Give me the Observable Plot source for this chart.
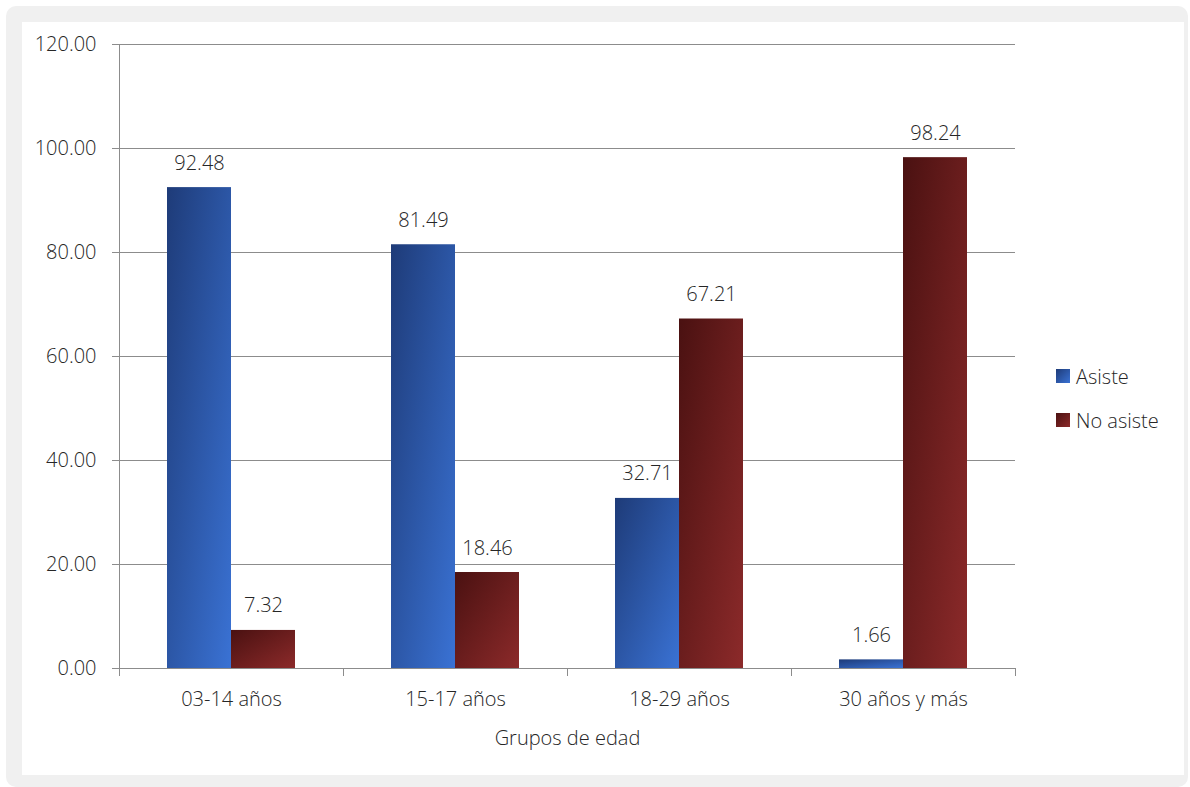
<!DOCTYPE html>
<html>
<head>
<meta charset="utf-8">
<script src="https://cdn.jsdelivr.net/npm/d3@7"></script>
<script src="https://cdn.jsdelivr.net/npm/@observablehq/plot@0.6"></script>
<style>
  html, body { margin: 0; padding: 0; background: #fff; }
  #wrap { position: relative; width: 1190px; height: 787px; background: #fff; overflow: hidden;
          font-family: 'Open Sans', sans-serif; color: #262626; }
  #outer { position: absolute; left: 6px; top: 6px; right: 2px; bottom: 0px; background: #f0f0f0; border-radius: 10px; }
  #inner { position: absolute; left: 22px; top: 22px; width: 1162px; height: 753px; background: #fff; }
  #chart { position: absolute; left: 0; top: 0; }
  #legend { position: absolute; left: 1056px; top: 362px; font-size: 20px; font-weight: 300; }
  .item { display: flex; align-items: center; height: 28px; margin-bottom: 16px; }
  .sw { width: 14px; height: 14px; margin-right: 6px; }
</style>
</head>
<body>
<div id="wrap">
  <div id="outer"></div>
  <div id="inner"></div>
  <div id="chart"></div>
  <div id="legend"></div>
</div>
<script>
const categories = ["03-14 años", "15-17 años", "18-29 años", "30 años y más"];
const series = ["Asiste", "No asiste"];
const asiste = [92.48, 81.49, 32.71, 1.66];
const noAsiste = [7.32, 18.46, 67.21, 98.24];
const yTicks = [0, 20, 40, 60, 80, 100, 120];
const xTitle = "Grupos de edad";

const gradients = {
  "Asiste": ["#1e3b78", "#3a72d4"],
  "No asiste": ["#4a1111", "#8c2a2a"]
};
const gradIds = {"Asiste": "gradAsiste", "No asiste": "gradNoAsiste"};

const data = categories.flatMap((c, i) => [
  {grupo: c, serie: series[0], valor: asiste[i]},
  {grupo: c, serie: series[1], valor: noAsiste[i]}
]);

const grid = "#8c8c8c";
const ink = "#262626";

const chart = Plot.plot({
  width: 1190,
  height: 787,
  marginLeft: 118,
  marginRight: 175,
  marginTop: 44,
  marginBottom: 119,
  style: {background: "transparent", fontFamily: "'Open Sans', sans-serif", fontSize: "20px", fontWeight: 300, color: ink},
  fx: {domain: categories, padding: 0, label: null},
  x: {domain: series, paddingInner: 0, paddingOuter: 0.735, axis: null},
  y: {domain: [0, 120]},
  color: {domain: series, range: series.map(s => `url(#${gradIds[s]})`)},
  marks: [
    Plot.gridY(yTicks, {stroke: grid, strokeOpacity: 1}),
    Plot.axisY(yTicks, {tickSize: 7, tickPadding: 16, tickFormat: d => d.toFixed(2), stroke: grid, fill: ink, label: null}),
    Plot.barY(data, {fx: "grupo", x: "serie", y: "valor", fill: "serie"}),
    Plot.text(data, {fx: "grupo", x: "serie", y: "valor", text: d => d.valor.toFixed(2), lineAnchor: "bottom", dy: -18, fill: ink}),
    Plot.ruleY([0], {stroke: grid}),
    Plot.frame({anchor: "left", facetAnchor: "left", stroke: grid, strokeOpacity: 1}),
    Plot.frame({anchor: "left", insetTop: 624, insetBottom: -7, stroke: grid, strokeOpacity: 1}),
    Plot.frame({anchor: "right", insetTop: 624, insetBottom: -7, stroke: grid, strokeOpacity: 1}),
    Plot.axisFx({anchor: "bottom", tickSize: 0, tickPadding: 23, fill: ink, label: xTitle, labelAnchor: "center", labelOffset: 76, labelArrow: "none"})
  ]
});

const svg = d3.select(chart);
const defs = svg.insert("defs", ":first-child");
for (const s of series) {
  const g = defs.append("linearGradient").attr("id", gradIds[s])
    .attr("x1", 0).attr("y1", 0).attr("x2", 1).attr("y2", 1);
  g.append("stop").attr("offset", "0%").attr("stop-color", gradients[s][0]);
  g.append("stop").attr("offset", "100%").attr("stop-color", gradients[s][1]);
}
document.getElementById("chart").appendChild(chart);

const legend = d3.select("#legend");
for (const s of series) {
  const it = legend.append("div").attr("class", "item");
  it.append("div").attr("class", "sw").style("background", `linear-gradient(135deg, ${gradients[s][0]}, ${gradients[s][1]})`);
  it.append("span").text(s);
}
</script>
</body>
</html>
